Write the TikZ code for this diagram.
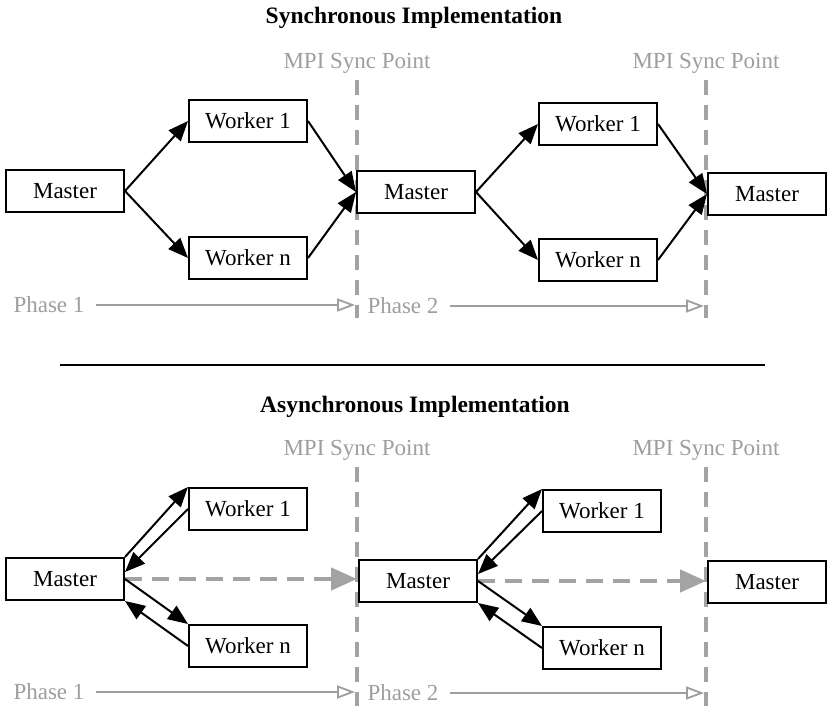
\documentclass[tikz,border=0pt]{standalone}
\usepackage{fontspec}
\setmainfont{Liberation Serif}
\usepackage{xcolor}
\usetikzlibrary{calc,positioning,arrows.meta}
\definecolor{Faint}{HTML}{9E9E9E}
\definecolor{SyncLine}{HTML}{A3A3A3}

\begin{document}
\begin{tikzpicture}[x=1pt,y=1pt,
  procbox/.style={draw=black,fill=white,line width=2pt,minimum width=118pt,minimum height=42pt,inner sep=0pt,font=\fontsize{23}{27}\selectfont},
  heading/.style={font=\fontsize{23.5}{28}\selectfont\bfseries},
  faintlabel/.style={text=Faint,font=\fontsize{23}{27}\selectfont},
  syncline/.style={SyncLine,line width=4pt,dash pattern=on 15pt off 10pt},
  msg/.style={-{Triangle[length=20pt,width=16pt]},black,line width=2pt},
  phasearrow/.style={-{Triangle[open,length=18pt,width=13pt]},Faint,line width=1.8pt,shorten >=2pt},
  bypass/.style={-{Triangle[length=26pt,width=22pt]},SyncLine,line width=4.5pt,dash pattern=on 17pt off 10pt}]
\useasboundingbox (0,0) rectangle (830,-708);

\node[heading] (synctitle) at (414,-18) {Synchronous Implementation};
\node[faintlabel] (syncpt1) at (357,-63) {MPI Sync Point};
\node[faintlabel] (syncpt2) at (706,-63) {MPI Sync Point};
\coordinate (s1top) at (357,-80);
\coordinate (s1bot) at (357,-318);
\coordinate (s2top) at (706,-80);
\coordinate (s2bot) at (706,-318);
\draw[syncline] (s1top)--(s1bot);
\draw[syncline] (s2top)--(s2bot);

\node[procbox] (master1) at (65,-191) {Master};
\node[procbox,above right=26pt and 63pt of master1] (work11) {Worker 1};
\node[procbox,below right=23pt and 63pt of master1] (work1n) {Worker n};
\node[procbox] (master2) at (416,-192) {Master};
\node[procbox,above right=24pt and 62pt of master2] (work21) {Worker 1};
\node[procbox,below right=24pt and 62pt of master2] (work2n) {Worker n};
\node[procbox] (master3) at (767,-194) {Master};
\draw[msg] (master1.east)--(work11.west);
\draw[msg] (master1.east)--(work1n.west);
\draw[msg] (work11.east)--(master2.west);
\draw[msg] (work1n.east)--(master2.west);
\draw[msg] (master2.east)--(work21.west);
\draw[msg] (master2.east)--(work2n.west);
\draw[msg] (work21.east)--(master3.west);
\draw[msg] (work2n.east)--(master3.west);

\node[faintlabel] (phase11) at (49,-305) {Phase 1};
\node[faintlabel] (phase12) at (403,-306) {Phase 2};
\draw[phasearrow] ($(phase11.east)+(8,0)$)--(s1top |- phase11);
\draw[phasearrow] ($(phase12.east)+(8,0)$)--(s2top |- phase12);

\coordinate (ruleleft) at (60,-365);
\coordinate (ruleright) at (765,-365);
\draw[line width=2pt] (ruleleft)--(ruleright);

\node[heading] (asynctitle) at (415,-407) {Asynchronous Implementation};
\node[faintlabel] (asyncpt1) at (357,-450) {MPI Sync Point};
\node[faintlabel] (asyncpt2) at (706,-450) {MPI Sync Point};
\coordinate (a1top) at (357,-467);
\coordinate (a1bot) at (357,-706);
\coordinate (a2top) at (706,-467);
\coordinate (a2bot) at (706,-706);
\draw[syncline] (a1top)--(a1bot);
\draw[syncline] (a2top)--(a2bot);

\node[procbox] (amaster1) at (65,-579) {Master};
\node[procbox,above right=26pt and 63pt of amaster1] (awork11) {Worker 1};
\node[procbox,below right=23pt and 63pt of amaster1] (awork1n) {Worker n};
\node[procbox] (amaster2) at (418,-581) {Master};
\node[procbox,above right=26pt and 64pt of amaster2] (awork21) {Worker 1};
\node[procbox,below right=23pt and 64pt of amaster2] (awork2n) {Worker n};
\node[procbox] (amaster3) at (767,-582) {Master};

\draw[bypass] (amaster1.east)--(a1top |- amaster1);
\draw[bypass] (amaster2.east)--(a2top |- amaster2);
\draw[msg] (amaster1.north east)--(awork11.north west);
\draw[msg] (awork11.west)--($(amaster1.east)+(0,7)$);
\draw[msg] (amaster1.east)--(awork1n.north west);
\draw[msg] (awork1n.west)--(amaster1.south east);
\draw[msg] (amaster2.north east)--(awork21.north west);
\draw[msg] (awork21.west)--($(amaster2.east)+(0,7)$);
\draw[msg] (amaster2.east)--(awork2n.north west);
\draw[msg] (awork2n.west)--(amaster2.south east);

\node[faintlabel] (phase21) at (49,-692) {Phase 1};
\node[faintlabel] (phase22) at (403,-693) {Phase 2};
\draw[phasearrow] ($(phase21.east)+(8,0)$)--(a1top |- phase21);
\draw[phasearrow] ($(phase22.east)+(8,0)$)--(a2top |- phase22);
\end{tikzpicture}
\end{document}
